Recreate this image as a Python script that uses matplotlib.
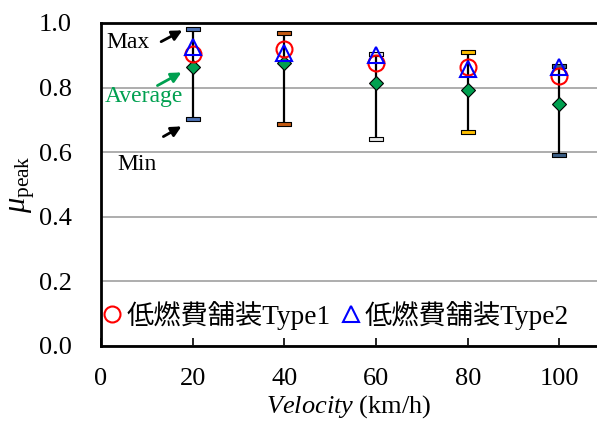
import matplotlib
matplotlib.use("Agg")
import matplotlib.pyplot as plt
import numpy as np
from matplotlib.lines import Line2D

plt.rcParams['font.family'] = ['Liberation Serif', 'Noto Sans CJK JP', 'DejaVu Sans']
plt.rcParams['mathtext.fontset'] = 'custom'
plt.rcParams['mathtext.rm'] = 'Liberation Serif'
plt.rcParams['mathtext.it'] = 'Liberation Serif:italic'

velocity = [20, 40, 60, 80, 100]
mu_max = [0.981, 0.970, 0.905, 0.909, 0.868]
mu_min = [0.703, 0.687, 0.640, 0.663, 0.592]
mu_avg = [0.864, 0.875, 0.813, 0.793, 0.749]
type1 = [0.904, 0.919, 0.877, 0.865, 0.836]
type2 = [0.926, 0.908, 0.901, 0.857, 0.865]
cap_colors = ['#4f73b5', '#c55a11', '#e8e8e8', '#ffc000', '#3c5f86']
labels = ['低燃費舗装Type1', '低燃費舗装Type2']

fig = plt.figure(figsize=(5.97, 4.25), dpi=100)
ax = fig.add_axes([0.169, 0.186, 0.831, 0.760])

# range lines
ax.vlines(velocity, mu_min, mu_max, colors='black', linewidth=1.6, zorder=3)
cap = [(-3.5, -1), (3.5, -1), (3.5, 1), (-3.5, 1), (-3.5, -1)]
for v, lo, hi, c in zip(velocity, mu_min, mu_max, cap_colors):
    ax.plot([v, v], [lo, hi], linestyle='none', marker=cap, markersize=10.5,
            markerfacecolor=c, markeredgecolor='black', markeredgewidth=0.8, zorder=4)

ax.plot(velocity, mu_avg, linestyle='none', marker='D', markersize=7.5,
        markerfacecolor='#00a050', markeredgecolor='black', markeredgewidth=0.8, zorder=5)
ax.plot(velocity, type1, linestyle='none', marker='o', markersize=11.5,
        markerfacecolor='none', markeredgecolor='red', markeredgewidth=1.5, zorder=6)
ax.plot(velocity, type2, linestyle='none', marker='^', markersize=11.5,
        markerfacecolor='none', markeredgecolor='blue', markeredgewidth=1.5, zorder=7)

ax.set_xlim(0, 108.2)
ax.set_ylim(0, 1.0)
ax.set_xticks([0, 20, 40, 60, 80, 100])
ax.set_yticks([0.0, 0.2, 0.4, 0.6, 0.8, 1.0])
ax.set_yticklabels(['0.0', '0.2', '0.4', '0.6', '0.8', '1.0'])
ax.yaxis.grid(True, color='#a0a0a0', linewidth=1.2)
ax.set_axisbelow(True)
ax.tick_params(axis='x', direction='in', length=6, width=1.2, pad=16, labelsize=19)
ax.tick_params(axis='y', length=0, pad=21, labelsize=19)
for s in ['left', 'bottom', 'top']:
    ax.spines[s].set_linewidth(2.0)
ax.spines['right'].set_visible(False)

ax.set_xlabel(r'$\it{Velocity}$ (km/h)', fontsize=19, labelpad=2)
ax.set_ylabel(r'$\mu_{\mathrm{peak}}$', fontsize=22, labelpad=1)

# annotations
ax.text(6.0, 0.941, 'Max', fontsize=17, ha='center', va='center', color='black')
ax.annotate('', xy=(18.3, 0.981), xytext=(12.6, 0.938),
            arrowprops=dict(arrowstyle='-|>', color='black', lw=2, mutation_scale=15))
ax.text(9.4, 0.771, 'Average', fontsize=17, ha='center', va='center', color='#00a050')
ax.annotate('', xy=(18.1, 0.851), xytext=(11.8, 0.802),
            arrowprops=dict(arrowstyle='-|>', color='#00a050', lw=2, mutation_scale=15))
ax.text(7.9, 0.563, 'Min', fontsize=17, ha='center', va='center', color='black')
ax.annotate('', xy=(18.1, 0.684), xytext=(13.1, 0.644),
            arrowprops=dict(arrowstyle='-|>', color='black', lw=2, mutation_scale=15))

handles = [Line2D([], [], linestyle='none', marker='o', markersize=11.5, markerfacecolor='none',
                  markeredgecolor='red', markeredgewidth=1.5),
           Line2D([], [], linestyle='none', marker='^', markersize=11.5, markerfacecolor='none',
                  markeredgecolor='blue', markeredgewidth=1.5)]
ax.legend(handles, labels, loc='center left', bbox_to_anchor=(-0.037, 0.095), ncol=2,
          frameon=False, fontsize=19.6, handlelength=0.8, handletextpad=0.1,
          columnspacing=0.35, borderpad=0.2)

fig.savefig('out.png', dpi=100)
